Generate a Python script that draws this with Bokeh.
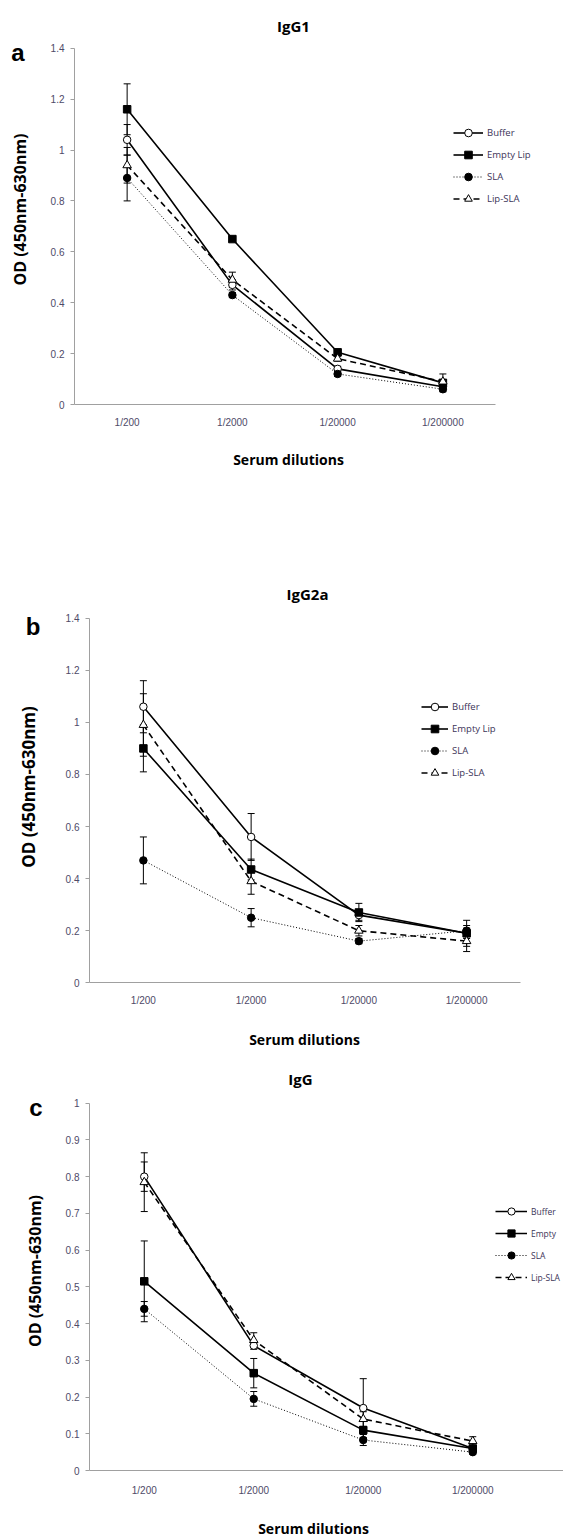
import math
from bokeh.plotting import figure
from bokeh.models import (Range1d, FixedTicker, Label, Legend, LegendItem,
                          Whisker, ColumnDataSource, TeeHead, LinearAxis)
from bokeh.layouts import column
from bokeh.embed import file_html
from bokeh.resources import INLINE

# ---------------- data ----------------
dilutions = ["1/200", "1/2000", "1/20000", "1/200000"]
series_names = ["Buffer", "Empty Lip", "SLA", "Lip-SLA"]
legend_names_c = ["Buffer", "Empty", "SLA", "Lip-SLA"]

# Panel a : IgG1
igg1_buffer = [1.04, 0.47, 0.14, 0.07]
igg1_buffer_err = [0.06, 0.02, 0.01, 0.01]
igg1_empty = [1.16, 0.65, 0.205, 0.085]
igg1_empty_err = [0.10, 0.01, 0.01, 0.01]
igg1_sla = [0.89, 0.43, 0.12, 0.06]
igg1_sla_err = [0.09, 0.01, 0.01, 0.01]
igg1_lipsla = [0.94, 0.49, 0.18, 0.09]
igg1_lipsla_err = [0.07, 0.03, 0.01, 0.03]

# Panel b : IgG2a
igg2a_buffer = [1.06, 0.56, 0.26, 0.19]
igg2a_buffer_err = [0.10, 0.09, 0.02, 0.05]
igg2a_empty = [0.90, 0.435, 0.27, 0.19]
igg2a_empty_err = [0.09, 0.04, 0.035, 0.02]
igg2a_sla = [0.47, 0.25, 0.16, 0.20]
igg2a_sla_err = [0.09, 0.035, 0.01, 0.02]
igg2a_lipsla = [0.99, 0.39, 0.20, 0.16]
igg2a_lipsla_err = [0.12, 0.05, 0.02, 0.04]

# Panel c : IgG
igg_buffer = [0.80, 0.34, 0.17, 0.06]
igg_buffer_err = [0.04, 0.01, 0.08, 0.005]
igg_empty = [0.515, 0.265, 0.11, 0.06]
igg_empty_err = [0.11, 0.04, 0.01, 0.005]
igg_sla = [0.44, 0.195, 0.083, 0.05]
igg_sla_err = [0.02, 0.02, 0.015, 0.005]
igg_lipsla = [0.785, 0.355, 0.14, 0.08]
igg_lipsla_err = [0.08, 0.02, 0.02, 0.012]

yticks_ab = [0, 0.2, 0.4, 0.6, 0.8, 1.0, 1.2, 1.4]
ylabels_ab = ["0", "0.2", "0.4", "0.6", "0.8", "1", "1.2", "1.4"]
yticks_c = [0, 0.1, 0.2, 0.3, 0.4, 0.5, 0.6, 0.7, 0.8, 0.9, 1.0]
ylabels_c = ["0", "0.1", "0.2", "0.3", "0.4", "0.5", "0.6", "0.7", "0.8", "0.9", "1"]

# ---------------- styles ----------------
STYLES = {
    "Buffer":    dict(marker="circle",   fill="white", size=7.5, dash="solid", lw=1.6),
    "Empty Lip": dict(marker="square",   fill="black", size=7.5, dash="solid", lw=1.6),
    "SLA":       dict(marker="circle",   fill="black", size=7.5, dash="1 2",   lw=1.0),
    "Lip-SLA":   dict(marker="triangle", fill="white", size=8.5, dash="6 4",   lw=1.6),
}
TICK_COLOR = "#4e4a68"
AXIS_COLOR = "#a0a0a0"
BOLD_FONT = "Open Sans"
W = 563


def make_panel(cfg):
    H = cfg["height"]
    # pixel box of the plotting area inside this panel (canvas px, y from top)
    bl, br, bt, bb = cfg["box"]
    xmax_cat = len(dilutions)
    ymax = cfg["yticks"][-1]
    kx = (br - bl) / xmax_cat
    ky = (bb - bt) / ymax
    x_range = Range1d(-bl / kx, (W - bl) / kx)
    y_range = Range1d(-(H - bb) / ky, ymax + bt / ky)

    p = figure(width=W, height=H, title=None, x_range=x_range, y_range=y_range,
               x_axis_location=None, y_axis_location=None,
               output_backend="svg", toolbar_location=None,
               min_border_left=0, min_border_right=0,
               min_border_top=0, min_border_bottom=0)
    p.outline_line_color = None
    p.xgrid.visible = False
    p.ygrid.visible = False

    xpos = [i + 0.5 for i in range(len(dilutions))]

    xend = cfg["xaxis_end"] if cfg["xaxis_end"] is not None else xmax_cat
    xa = LinearAxis(fixed_location=0, bounds=(0, xend))
    xa.ticker = FixedTicker(ticks=xpos)
    xa.major_label_overrides = {xv: d for xv, d in zip(xpos, dilutions)}
    xa.major_tick_out = 0
    xa.major_tick_in = 0
    xa.major_tick_line_color = None
    xa.minor_tick_line_color = None
    xa.axis_line_color = AXIS_COLOR
    xa.major_label_text_font = "Liberation Sans"
    xa.major_label_text_font_size = "10px"
    xa.major_label_text_color = TICK_COLOR
    xa.major_label_standoff = cfg["xstandoff"]
    p.add_layout(xa, "below")

    ya = LinearAxis(fixed_location=0, bounds=(0, ymax))
    ya.ticker = FixedTicker(ticks=cfg["yticks"])
    ya.major_label_overrides = {v: s for v, s in zip(cfg["yticks"], cfg["ylabels"])}
    ya.major_tick_out = 4
    ya.major_tick_in = 0
    ya.major_tick_line_color = AXIS_COLOR
    ya.minor_tick_line_color = None
    ya.axis_line_color = AXIS_COLOR
    ya.major_label_text_font = "Liberation Sans"
    ya.major_label_text_font_size = "10px"
    ya.major_label_text_color = TICK_COLOR
    ya.major_label_standoff = 6
    p.add_layout(ya, "left")

    items = []
    for name, lname, vals, errs in zip(series_names, cfg["legend_names"], cfg["values"], cfg["errors"]):
        st = STYLES[name]
        src = ColumnDataSource(dict(base=xpos,
                                    upper=[v + e for v, e in zip(vals, errs)],
                                    lower=[v - e for v, e in zip(vals, errs)]))
        w = Whisker(source=src, base="base", upper="upper", lower="lower",
                    line_color="black", line_width=1,
                    upper_head=TeeHead(size=7, line_color="black", line_width=1),
                    lower_head=TeeHead(size=7, line_color="black", line_width=1))
        p.add_layout(w)
        lr = p.line(xpos, vals, line_color="black", line_width=st["lw"], line_dash=st["dash"])
        mr = p.scatter(xpos, vals, marker=st["marker"], size=st["size"],
                       fill_color=st["fill"], line_color="black", line_width=1)
        items.append(LegendItem(label=lname, renderers=[lr, mr]))

    lg = cfg["legend"]
    legend = Legend(items=items, location=(lg["x"], H - lg["bottom"]),
                    glyph_width=lg["gw"], glyph_height=lg["gh"], label_height=lg["gh"],
                    spacing=lg["sp"], padding=0, margin=0, label_standoff=4,
                    border_line_color=None, background_fill_alpha=0,
                    label_text_font="Open Sans", label_text_font_size=lg["fs"],
                    label_text_color="#3c3458")
    p.add_layout(legend)

    def lab(text, pos, size, angle=0.0, font=BOLD_FONT):
        p.add_layout(Label(x=pos[0], y=H - pos[1], x_units="screen", y_units="screen",
                           text=text, text_font=font, text_font_size=size,
                           text_font_style="bold", text_align="center",
                           text_baseline="middle", angle=angle, text_color="black"))

    lab(cfg["title"], cfg["title_pos"], "15px")
    lab(cfg["letter"], cfg["letter_pos"], "24px", font="Liberation Sans")
    lab("OD (450nm-630nm)", cfg["ylab_pos"], cfg["ylab_size"], angle=math.pi / 2)
    lab("Serum dilutions", cfg["xlab_pos"], "14px")
    return p


pa = make_panel(dict(
    height=505, box=(74, 495, 47.7, 404), xaxis_end=None,
    yticks=yticks_ab, ylabels=ylabels_ab, xstandoff=12,
    values=[igg1_buffer, igg1_empty, igg1_sla, igg1_lipsla],
    errors=[igg1_buffer_err, igg1_empty_err, igg1_sla_err, igg1_lipsla_err],
    legend_names=series_names,
    legend=dict(x=453, bottom=207.5, gw=30, gh=19, sp=3, fs="9.5px"),
    title="IgG1", title_pos=(293, 25), letter="a", letter_pos=(17.5, 52),
    ylab_pos=(19, 209), ylab_size="16px", xlab_pos=(288, 459)))

pb = make_panel(dict(
    height=555, box=(89, 520, 112.7, 477.3), xaxis_end=None,
    yticks=yticks_ab, ylabels=ylabels_ab, xstandoff=12,
    values=[igg2a_buffer, igg2a_empty, igg2a_sla, igg2a_lipsla],
    errors=[igg2a_buffer_err, igg2a_empty_err, igg2a_sla_err, igg2a_lipsla_err],
    legend_names=series_names,
    legend=dict(x=421, bottom=276.5, gw=27, gh=19, sp=3, fs="9.5px"),
    title="IgG2a", title_pos=(307, 88), letter="b", letter_pos=(32.5, 121),
    ylab_pos=(28, 281.5), ylab_size="17px", xlab_pos=(304, 534)))

pc = make_panel(dict(
    height=479, box=(89, 527, 42.7, 410), xaxis_end=4.4,
    yticks=yticks_c, ylabels=ylabels_c, xstandoff=14,
    values=[igg_buffer, igg_empty, igg_sla, igg_lipsla],
    errors=[igg_buffer_err, igg_empty_err, igg_sla_err, igg_lipsla_err],
    legend_names=legend_names_c,
    legend=dict(x=495, bottom=226, gw=32, gh=18, sp=4, fs="8.5px"),
    title="IgG", title_pos=(300, 18), letter="c", letter_pos=(35.5, 47),
    ylab_pos=(34, 210.5), ylab_size="16px", xlab_pos=(313, 468)))

layout = column(pa, pb, pc, spacing=0)
open("out.html", "w").write(file_html(layout, INLINE))
